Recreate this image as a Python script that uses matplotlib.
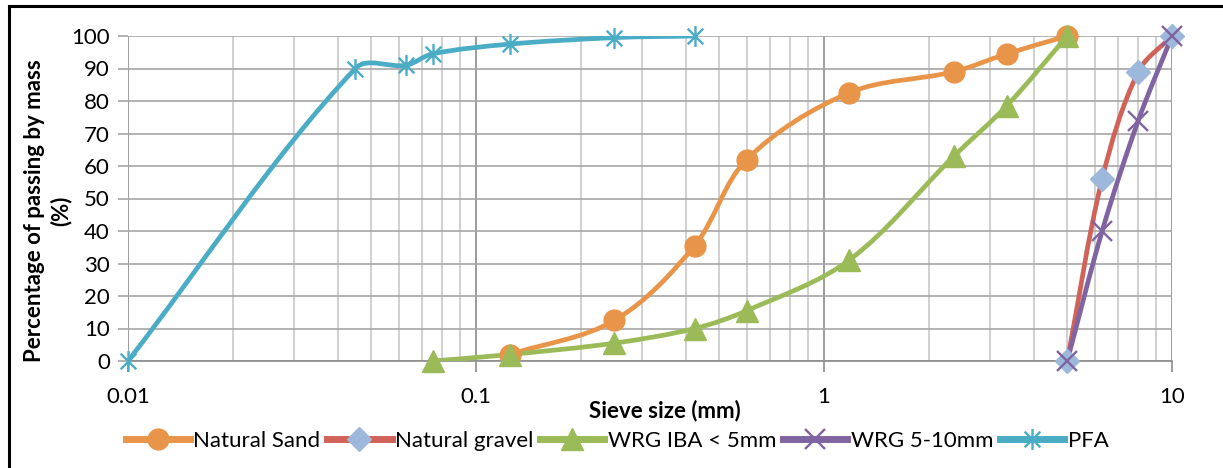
import numpy as np
import matplotlib
matplotlib.use("Agg")
import matplotlib.pyplot as plt
from matplotlib.path import Path
from matplotlib.patches import PathPatch, Rectangle
from matplotlib.lines import Line2D
from matplotlib.ticker import LogLocator, NullFormatter, FixedLocator, FixedFormatter

plt.rcParams['font.family'] = ['Lato', 'DejaVu Sans']

# sieve sizes (mm) and % passing
sand_x = [0.125, 0.25, 0.425, 0.6, 1.18, 2.36, 3.35, 5]
sand_y = [2, 12.5, 35.5, 62, 82.5, 89, 94.5, 100]

gravel_x = [5, 6.3, 8, 10]
gravel_y = [0, 56, 89, 100]

iba_x = [0.075, 0.125, 0.25, 0.425, 0.6, 1.18, 2.36, 3.35, 5]
iba_y = [0, 2, 5.5, 10, 15.5, 31, 63, 78.5, 100]

wrg_x = [5, 6.3, 8, 10]
wrg_y = [0, 40, 74, 100]

pfa_x = [0.01, 0.045, 0.063, 0.075, 0.125, 0.25, 0.425]
pfa_y = [0, 90, 91, 94.5, 97.5, 99.5, 100]

x_ticks = [0.01, 0.1, 1, 10]
x_ticklabels = ['0.01', '0.1', '1', '10']

# asterisk like the excel "star" marker
star = Path([(0, -1), (0, 1), (-0.75, -0.75), (0.75, 0.75), (-0.75, 0.75), (0.75, -0.75)],
            [Path.MOVETO, Path.LINETO, Path.MOVETO, Path.LINETO, Path.MOVETO, Path.LINETO])

series = [
    ('Natural Sand', sand_x, sand_y, '#E8954A', 'o', '#E8954A', 15),
    ('Natural gravel', gravel_x, gravel_y, '#D0625A', 'D', '#9DB8DA', 12),
    ('WRG IBA < 5mm', iba_x, iba_y, '#9BBB59', '^', '#9BBB59', 16),
    ('WRG 5-10mm', wrg_x, wrg_y, '#8064A2', 'x', '#8064A2', 14),
    ('PFA', pfa_x, pfa_y, '#4BACC6', star, '#4BACC6', 15),
]

fig = plt.figure(figsize=(12.23, 4.68), dpi=100)
ax = fig.add_axes([128 / 1223, 1 - 361 / 468, 1044 / 1223, 325 / 468])
ax.set_xscale('log')
ax.set_xlim(0.01, 10)
ax.set_ylim(0, 100)


def smooth_path(xs, ys):
    # bezier through the points, tangents limited so the curve does not overshoot much
    pts = ax.transData.transform(np.column_stack([xs, ys]))
    n = len(pts)
    verts = [pts[0]]
    codes = [Path.MOVETO]
    tang = []
    for i in range(n):
        a = pts[max(i - 1, 0)]
        b = pts[min(i + 1, n - 1)]
        d = b - a
        L = np.hypot(*d)
        tang.append(d / L if L > 0 else np.zeros(2))
    for i in range(n - 1):
        seg = np.hypot(*(pts[i + 1] - pts[i]))
        c1 = pts[i] + tang[i] * seg / 3
        c2 = pts[i + 1] - tang[i + 1] * seg / 3
        verts += [c1, c2, pts[i + 1]]
        codes += [Path.CURVE4] * 3
    verts = ax.transData.inverted().transform(np.array(verts))
    return Path(verts, codes)


handles = []
for name, xs, ys, lc, mk, mc, ms in series:
    ax.add_patch(PathPatch(smooth_path(xs, ys), fill=False, edgecolor=lc, lw=3.4,
                           capstyle='round', joinstyle='round', zorder=3))
    if mk == 'x' or mk is star:
        kw = dict(mec=mc, mew=1.7)
    else:
        kw = dict(mfc=mc, mec=mc)
    ax.plot(xs, ys, ls='none', marker=mk, ms=ms, zorder=4, clip_on=False, **kw)
    handles.append((Line2D([], [], color=lc, lw=5, marker=mk, ms=ms, **kw), name))

# grid
ax.xaxis.set_major_locator(FixedLocator(x_ticks))
ax.xaxis.set_major_formatter(FixedFormatter(x_ticklabels))
ax.xaxis.set_minor_locator(LogLocator(base=10, subs=np.arange(2, 10)))
ax.xaxis.set_minor_formatter(NullFormatter())
ax.set_yticks(range(0, 101, 10))
ax.grid(which='major', axis='x', color='#8C8C8C', lw=1.2)
ax.grid(which='minor', axis='x', color='#C8C8C8', lw=1.2)
ax.grid(which='major', axis='y', color='#A6A6A6', lw=1.2)
ax.set_axisbelow(True)
for s in ['top', 'right', 'left']:
    ax.spines[s].set_visible(False)
ax.spines['bottom'].set_color('#8C8C8C')
ax.spines['bottom'].set_linewidth(1.2)
ax.tick_params(axis='x', which='major', length=8, color='#8C8C8C', width=1.2, pad=11, labelsize=16)
ax.tick_params(axis='x', which='minor', length=0)
ax.tick_params(axis='y', length=7, color='#A6A6A6', width=1.2, pad=6, labelsize=16)

fig.text(48 / 1223, 1 - 211 / 468, 'Percentage of passing by mass\n(%)', rotation=90,
         ha='center', va='center', fontsize=16, fontweight='bold', linespacing=1.3)
fig.text(665 / 1223, 1 - 411 / 468, 'Sieve size (mm)', ha='center', va='center',
         fontsize=16, fontweight='bold')

fig.legend([h for h, _ in handles], [n for _, n in handles], loc='center',
           bbox_to_anchor=(617 / 1223, 1 - 441 / 468), ncol=5, frameon=False,
           fontsize=16, handlelength=2.9, handletextpad=0.15, columnspacing=0.3)

# outer frame of the chart area (cut at the right and bottom)
fig.patches.append(Rectangle((9 / 1223, -0.1), 1.2, 1 - 6 / 468 + 0.1, transform=fig.transFigure,
                             fill=False, edgecolor='black', lw=2.2))

fig.savefig('out.png', dpi=100)
